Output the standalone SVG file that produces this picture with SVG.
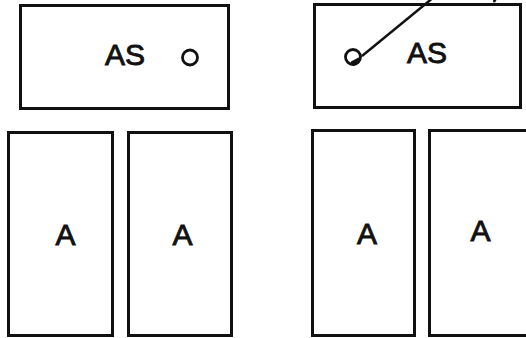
<svg xmlns="http://www.w3.org/2000/svg" width="526" height="338" viewBox="0 0 526 338">
<style>
.box{fill:#fff;stroke:#111;stroke-width:3}
.lbl{font-family:"Liberation Sans",Arial,sans-serif;font-weight:normal;font-size:30px;fill:#111;stroke:#111;stroke-width:0.9;text-anchor:middle}
.port{fill:none;stroke:#111;stroke-width:2.8}
.conn{fill:none;stroke:#111;stroke-width:2.5}
</style>
<defs>
<marker id="ah" viewBox="0 0 14 6" refX="1" refY="3" markerWidth="14" markerHeight="6" markerUnits="userSpaceOnUse" orient="auto-start-reverse">
<path d="M0,3 L14,0 L14,6 Z" fill="#111"/>
</marker>
<marker id="ah2" viewBox="0 0 12 10" refX="11" refY="5" markerWidth="12" markerHeight="10" markerUnits="userSpaceOnUse" orient="auto">
<path d="M0,0 L12,5 L0,10 Z" fill="#111"/>
</marker>
</defs>
<rect width="526" height="338" fill="#fff"/>
<g id="as-left">
<rect class="box" x="20.5" y="5.5" width="208" height="103"/>
<text class="lbl" x="125" y="65">AS</text>
<circle class="port" cx="190" cy="57.5" r="7.5"/>
</g>
<g id="a-left-1">
<rect class="box" x="8.5" y="132.5" width="104" height="203"/>
<text class="lbl" x="65.5" y="245">A</text>
</g>
<g id="a-left-2">
<rect class="box" x="128.5" y="132.5" width="103" height="203"/>
<text class="lbl" x="182.5" y="245">A</text>
</g>
<g id="as-right">
<rect class="box" x="314.5" y="4.5" width="206" height="103"/>
<text class="lbl" x="427" y="63">AS</text>
<circle class="port" cx="353" cy="57" r="7.5"/>
</g>
<g id="a-right-1">
<rect class="box" x="312.5" y="130.5" width="102" height="205"/>
<text class="lbl" x="367" y="244">A</text>
</g>
<g id="a-right-2">
<rect class="box" x="429.5" y="130.5" width="100" height="205"/>
<text class="lbl" x="480.5" y="241">A</text>
</g>
<g id="connectors">
<path class="conn" d="M362,56 L434,-3" marker-start="url(#ah)"/>
<path class="conn" d="M500,-12 L494,2" marker-end="url(#ah2)"/>
</g>
</svg>
